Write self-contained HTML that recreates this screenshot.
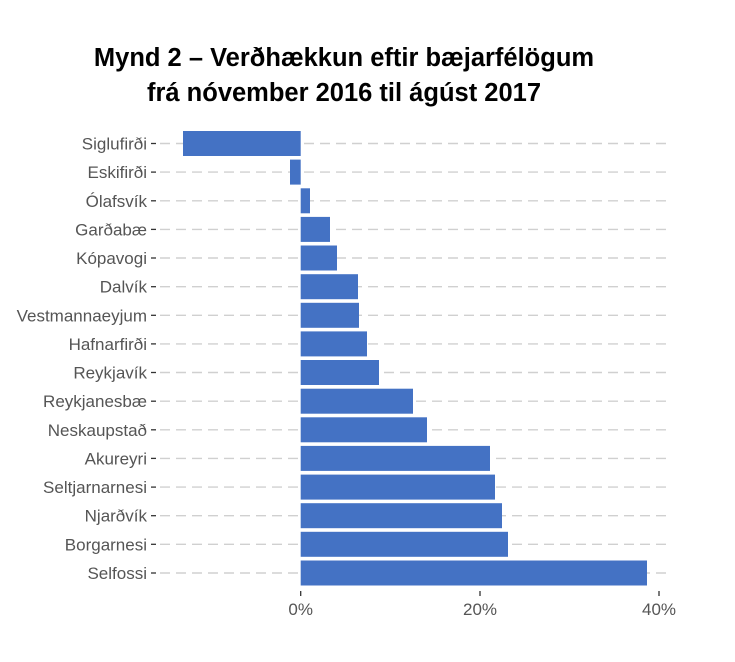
<!DOCTYPE html>
<html><head><meta charset="utf-8"><style>
html,body{margin:0;padding:0;background:#fff;}
</style></head><body>
<svg width="735" height="662" xmlns="http://www.w3.org/2000/svg" style="display:block">
<text x="344" y="66" text-anchor="middle" font-family="Liberation Sans, sans-serif" font-weight="bold" font-size="25.5" fill="#000">Mynd 2 – Verðhækkun eftir bæjarfélögum</text>
<text x="344" y="101" text-anchor="middle" font-family="Liberation Sans, sans-serif" font-weight="bold" font-size="25.5" fill="#000">frá nóvember 2016 til ágúst 2017</text>
<g stroke="#d0d0d0" stroke-width="1.4" stroke-dasharray="10,6">
<line x1="160" x2="672" y1="143.5" y2="143.5"/><line x1="160" x2="672" y1="172.1" y2="172.1"/><line x1="160" x2="672" y1="200.8" y2="200.8"/><line x1="160" x2="672" y1="229.4" y2="229.4"/><line x1="160" x2="672" y1="258" y2="258"/><line x1="160" x2="672" y1="286.7" y2="286.7"/><line x1="160" x2="672" y1="315.3" y2="315.3"/><line x1="160" x2="672" y1="343.9" y2="343.9"/><line x1="160" x2="672" y1="372.5" y2="372.5"/><line x1="160" x2="672" y1="401.2" y2="401.2"/><line x1="160" x2="672" y1="429.8" y2="429.8"/><line x1="160" x2="672" y1="458.4" y2="458.4"/><line x1="160" x2="672" y1="487.1" y2="487.1"/><line x1="160" x2="672" y1="515.7" y2="515.7"/><line x1="160" x2="672" y1="544.3" y2="544.3"/><line x1="160" x2="672" y1="573" y2="573"/>
</g>
<g stroke="#333" stroke-width="1.3">
<line x1="151" x2="156" y1="143.5" y2="143.5"/><line x1="151" x2="156" y1="172.1" y2="172.1"/><line x1="151" x2="156" y1="200.8" y2="200.8"/><line x1="151" x2="156" y1="229.4" y2="229.4"/><line x1="151" x2="156" y1="258" y2="258"/><line x1="151" x2="156" y1="286.7" y2="286.7"/><line x1="151" x2="156" y1="315.3" y2="315.3"/><line x1="151" x2="156" y1="343.9" y2="343.9"/><line x1="151" x2="156" y1="372.5" y2="372.5"/><line x1="151" x2="156" y1="401.2" y2="401.2"/><line x1="151" x2="156" y1="429.8" y2="429.8"/><line x1="151" x2="156" y1="458.4" y2="458.4"/><line x1="151" x2="156" y1="487.1" y2="487.1"/><line x1="151" x2="156" y1="515.7" y2="515.7"/><line x1="151" x2="156" y1="544.3" y2="544.3"/><line x1="151" x2="156" y1="573" y2="573"/>
<line x1="300.7" y1="591" x2="300.7" y2="596"/><line x1="480" y1="591" x2="480" y2="596"/><line x1="659" y1="591" x2="659" y2="596"/>
</g>
<g fill="#4472C4">
<rect x="183" y="131" width="117.7" height="25"/>
<rect x="290" y="159.6" width="10.7" height="25"/>
<rect x="300.7" y="188.3" width="9.3" height="25"/>
<rect x="300.7" y="216.9" width="29.3" height="25"/>
<rect x="300.7" y="245.5" width="36.3" height="25"/>
<rect x="300.7" y="274.2" width="57.3" height="25"/>
<rect x="300.7" y="302.8" width="58.3" height="25"/>
<rect x="300.7" y="331.4" width="66.3" height="25"/>
<rect x="300.7" y="360" width="78.3" height="25"/>
<rect x="300.7" y="388.7" width="112.3" height="25"/>
<rect x="300.7" y="417.3" width="126.3" height="25"/>
<rect x="300.7" y="445.9" width="189.3" height="25"/>
<rect x="300.7" y="474.6" width="194.3" height="25"/>
<rect x="300.7" y="503.2" width="201.3" height="25"/>
<rect x="300.7" y="531.8" width="207.3" height="25"/>
<rect x="300.7" y="560.5" width="346.3" height="25"/>
</g>
<g font-family="Liberation Sans, sans-serif" font-size="17" fill="#555" text-anchor="end">
<text x="147" y="149.5">Siglufirði</text>
<text x="147" y="178.1">Eskifirði</text>
<text x="147" y="206.8">Ólafsvík</text>
<text x="147" y="235.4">Garðabæ</text>
<text x="147" y="264">Kópavogi</text>
<text x="147" y="292.7">Dalvík</text>
<text x="147" y="321.3">Vestmannaeyjum</text>
<text x="147" y="349.9">Hafnarfirði</text>
<text x="147" y="378.5">Reykjavík</text>
<text x="147" y="407.2">Reykjanesbæ</text>
<text x="147" y="435.8">Neskaupstað</text>
<text x="147" y="464.4">Akureyri</text>
<text x="147" y="493.1">Seltjarnarnesi</text>
<text x="147" y="521.7">Njarðvík</text>
<text x="147" y="550.3">Borgarnesi</text>
<text x="147" y="579">Selfossi</text>
</g>
<g font-family="Liberation Sans, sans-serif" font-size="17" fill="#555" text-anchor="middle">
<text x="300.7" y="615">0%</text><text x="480" y="615">20%</text><text x="659" y="615">40%</text>
</g>
</svg>
</body></html>
